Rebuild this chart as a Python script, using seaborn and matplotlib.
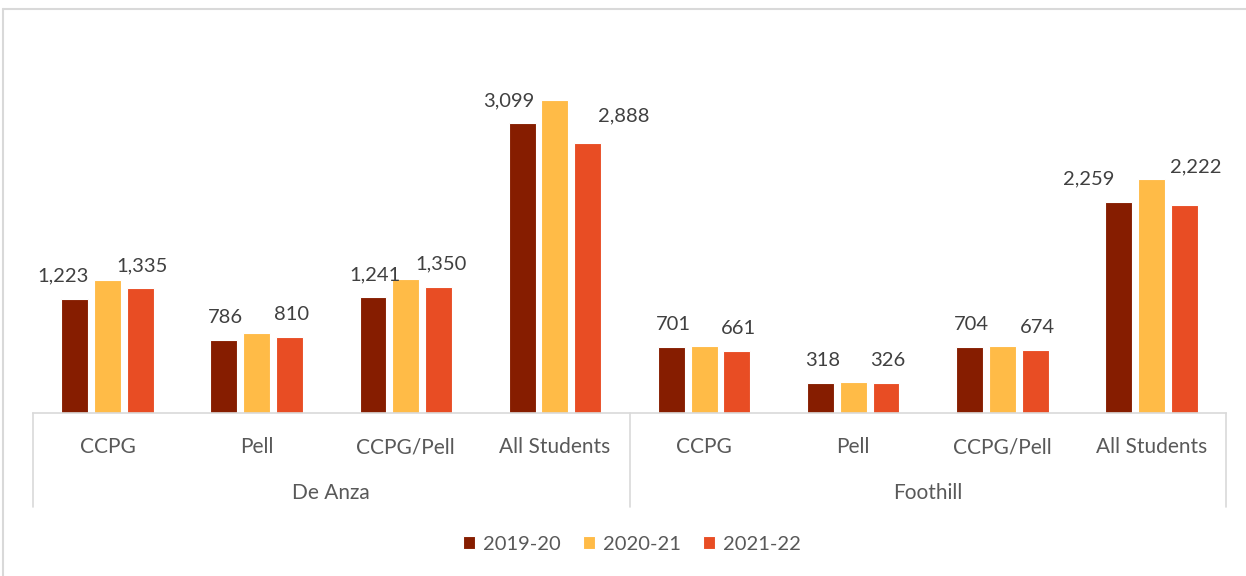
import numpy as np
import pandas as pd
import seaborn as sns
import matplotlib.pyplot as plt
from matplotlib.lines import Line2D

colleges = ['De Anza', 'Foothill']
groups = ['CCPG', 'Pell', 'CCPG/Pell', 'All Students']
years = ['2019-20', '2020-21', '2021-22']

# values per college, in group order
de_anza_1920 = [1223, 786, 1241, 3099]
de_anza_2021 = [1425, 855, 1435, 3348]
de_anza_2122 = [1335, 810, 1350, 2888]
foothill_1920 = [701, 318, 704, 2259]
foothill_2021 = [715, 335, 718, 2504]
foothill_2122 = [661, 326, 674, 2222]

colors = ['#861D00', '#FFBB47', '#E84D24']

# nudges (px) Excel applied to some data labels to avoid overlaps
nudge = {('De Anza', 'CCPG', '2019-20'): (-14, 0),
         ('De Anza', 'All Students', '2019-20'): (-15, 0),
         ('De Anza', 'All Students', '2021-22'): (34, 5),
         ('Foothill', 'All Students', '2019-20'): (-32, 0),
         ('Foothill', 'All Students', '2021-22'): (10, 16)}

rows = []
series = {'De Anza': [de_anza_1920, de_anza_2021, de_anza_2122],
          'Foothill': [foothill_1920, foothill_2021, foothill_2122]}
for c in colleges:
    for yi, y in enumerate(years):
        for gi, g in enumerate(groups):
            rows.append({'cat': c + '|' + g, 'college': c, 'group': g,
                         'year': y, 'value': series[c][yi][gi]})
df = pd.DataFrame(rows)
cats = [c + '|' + g for c in colleges for g in groups]

sns.set_style('white')
plt.rcParams['font.family'] = ['Lato', 'DejaVu Sans']

fig = plt.figure(figsize=(12.46, 5.76), dpi=100)
ax = fig.add_axes([33/1246, 1 - 413/576, 1193/1246, 374/576])

sns.barplot(data=df, x='cat', y='value', hue='year', order=cats,
            hue_order=years, palette=colors, saturation=1, width=0.66, gap=0.18,
            edgecolor='white', linewidth=0.8, ax=ax)

ax.set_ylim(0, 4000)
ax.set_xlim(-0.5, 7.5)
ax.set_xlabel('')
ax.set_ylabel('')
ax.set_yticks([])
ax.set_xticks([])
for s in ['top', 'left', 'right']:
    ax.spines[s].set_visible(False)
ax.spines['bottom'].set_color('#D9D9D9')
ax.spines['bottom'].set_linewidth(1.2)

# data labels for first and last year only
for hi in [0, 2]:
    cont = ax.containers[hi]
    for i, bar in enumerate(cont):
        c, g = cats[i].split('|')
        v = series[c][hi][groups.index(g)]
        dx, dy = nudge.get((c, g, years[hi]), (0, 0))
        ax.annotate(f'{v:,}', (bar.get_x() + bar.get_width() / 2, bar.get_height()),
                    xytext=((dx + 2) * 0.72, (dy + 17) * 0.72), textcoords='offset points',
                    ha='center', va='baseline', fontsize=14.5, color='#404040')

# multi-level category axis
tr = ax.get_xaxis_transform()
for i, cat in enumerate(cats):
    ax.text(i, -34/374, cat.split('|')[1], transform=tr, ha='center', va='center',
            fontsize=15, color='#595959')
for ci, c in enumerate(colleges):
    ax.text(ci * 4 + 1.5, -80/374, c, transform=tr, ha='center', va='center',
            fontsize=15, color='#595959')
for xv in [-0.5, 3.5, 7.5]:
    ax.add_line(Line2D([xv, xv], [0, -94/374], transform=tr, color='#D9D9D9',
                       lw=1.2, clip_on=False))

handles, labels = ax.get_legend_handles_labels()
ax.get_legend().remove()
fig.legend(handles, labels, loc='center', bbox_to_anchor=(632/1246, 1 - 544/576),
           ncol=3, frameon=False, fontsize=14.5, handlelength=0.6, handleheight=0.6,
           handletextpad=0.4, columnspacing=1.1, labelcolor='#595959')

# chart frame edges visible in the crop
fig.add_artist(Line2D([3/1246, 1], [1 - 9/576, 1 - 9/576], color='#D9D9D9', lw=1.5))
fig.add_artist(Line2D([3/1246, 3/1246], [0, 1 - 9/576], color='#D9D9D9', lw=1.5))

fig.savefig('out.png', dpi=100, facecolor='white')
